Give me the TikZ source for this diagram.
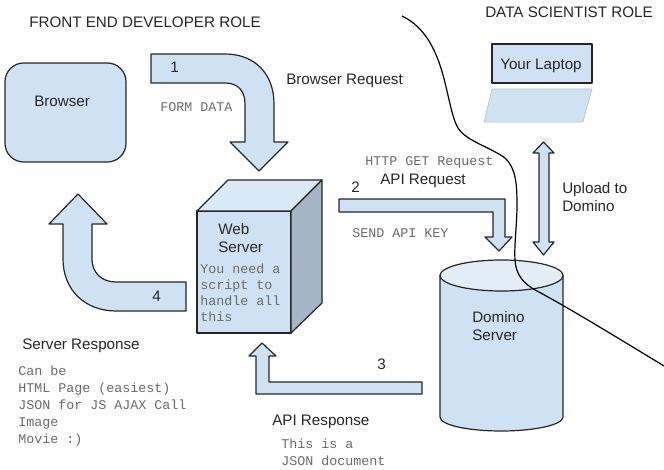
\documentclass[tikz,border=0pt]{standalone}
\usepackage{fontspec}
\setmainfont{Liberation Sans}
\setmonofont{Liberation Mono}
\usepackage{xcolor}
\definecolor{boxblue}{HTML}{CFE2F3}
\definecolor{lidblue}{HTML}{E2EDF8}
\definecolor{sidegray}{HTML}{A5B5C5}
\definecolor{monogray}{HTML}{6A6A6A}
\tikzset{
  shape line/.style={draw = black!85, line width = 0.9pt, line join = round, fill = boxblue},
  big label/.style={anchor = west, inner sep = 0pt, align = left, font = \fontsize{11.4}{14}\selectfont, text = black!85},
  mono label/.style={anchor = west, inner sep = 0pt, align = left, font = \ttfamily\fontsize{10}{12.4}\selectfont, text = monogray}
}

\begin{document}
\begin{tikzpicture}[x = 0.75pt, y = -0.75pt]
\useasboundingbox (0,0) rectangle (664,470);

% browser and laptop
\draw[shape line, rounded corners = 14] (5,63) rectangle (126,162);
\draw[shape line] (492,44) rectangle (592,83);
\draw[fill = boxblue, draw = gray!50, thin] (492,89) -- (592,89) -- (583,122) -- (484,122) -- cycle;

% web server
\draw[shape line] (197,211) rectangle (291,333);
\draw[shape line, fill = lidblue!60!boxblue] (197,211) -- (228,180) -- (322,180) -- (291,211) -- cycle;
\draw[shape line, fill = sidegray] (291,211) -- (322,180) -- (322,303) -- (291,333) -- cycle;

% domino server
\draw[shape line] (440,275) -- (440,417) .. controls (440,425) and (468,431) .. (501,431)
  .. controls (534,431) and (563,425) .. (563,417) -- (563,275);
\draw[shape line, fill = lidblue] (501.5,275.5) ellipse (61.5 and 15.5);

% block arrows
\draw[shape line] (151,54) -- (225,54) .. controls (255,54) and (274,74) .. (274,104) -- (274,142) -- (288,142)
  -- (259,171) -- (230,142) -- (245,142) -- (245,104) .. controls (245,91) and (238,83) .. (225,83) -- (151,83) -- cycle;
\draw[shape line] (186,282) -- (116,282) .. controls (102,282) and (92,273) .. (92,259) -- (92,224) -- (107,224)
  -- (78,194) -- (49,224) -- (63,224) -- (63,259) .. controls (63,290) and (85,311) .. (116,311) -- (186,311) -- cycle;
\draw[shape line] (339,199) -- (505,199) -- (505,237) -- (512,237) -- (499,251) -- (485,237) -- (493,237) -- (493,212) -- (339,212) -- cycle;
\draw[shape line] (422,382) -- (269,382) -- (269,356) -- (276,356) -- (262,343) -- (249,356) -- (256,356) -- (256,394) -- (422,394) -- cycle;
\draw[shape line] (543.5,142) -- (554,153) -- (549,153) -- (549,242) -- (554,242) -- (543.5,255) -- (533,242) -- (539,242) -- (539,153) -- (533,153) -- cycle;

% the line between the two roles
\draw[black, line width = 0.9pt] (402,16) .. controls (425,27) and (436,50) .. (443,75)
  .. controls (449,97) and (452,118) .. (458,128) .. controls (466,141) and (490,147) .. (505,158)
  .. controls (516,168) and (517,185) .. (517,205) .. controls (517,225) and (514,245) .. (515,260)
  .. controls (516,274) and (522,283) .. (537,291) .. controls (565,306) and (600,327) .. (664,366);

% labels
\node[big label] (frontRole) at (29,22) {FRONT END DEVELOPER ROLE};
\node[big label] (dataRole) at (485,12) {DATA SCIENTIST ROLE};
\node[big label] (browser) at (34,101) {Browser};
\node[big label] (laptop) at (500,66) {Your Laptop};
\node[big label] (browserReq) at (286,81) {Browser Request};
\node[big label] (apiReq) at (380,181) {API Request};
\node[big label] (upload) at (562,197) {Upload to\\Domino};
\node[big label] (web) at (218,238) {Web\\Server};
\node[big label] (domino) at (472,326) {Domino\\Server};
\node[big label] (serverResp) at (22,346) {Server Response};
\node[big label] (apiResp) at (272,422) {API Response};
\node[big label] (one) at (170,67) {1};
\node[big label] (two) at (351,187) {2};
\node[big label] (three) at (377,364) {3};
\node[big label] (four) at (152,296) {4};
\node[mono label] (formData) at (160,107) {FORM DATA};
\node[mono label] (httpGet) at (365,162) {HTTP GET Request};
\node[mono label] (apiKey) at (352,233) {SEND API KEY};
\node[mono label, font = \ttfamily\fontsize{10}{12}\selectfont] (script) at (200,293) {You need a\\script to\\handle all\\this};
\node[mono label, font = \ttfamily\fontsize{10}{12.75}\selectfont] (canBe) at (18,406) {Can be\\HTML Page (easiest)\\JSON for JS AJAX Call\\Image\\Movie :)};
\node[mono label] (json) at (281,452) {This is a\\JSON document};
\end{tikzpicture}
\end{document}
